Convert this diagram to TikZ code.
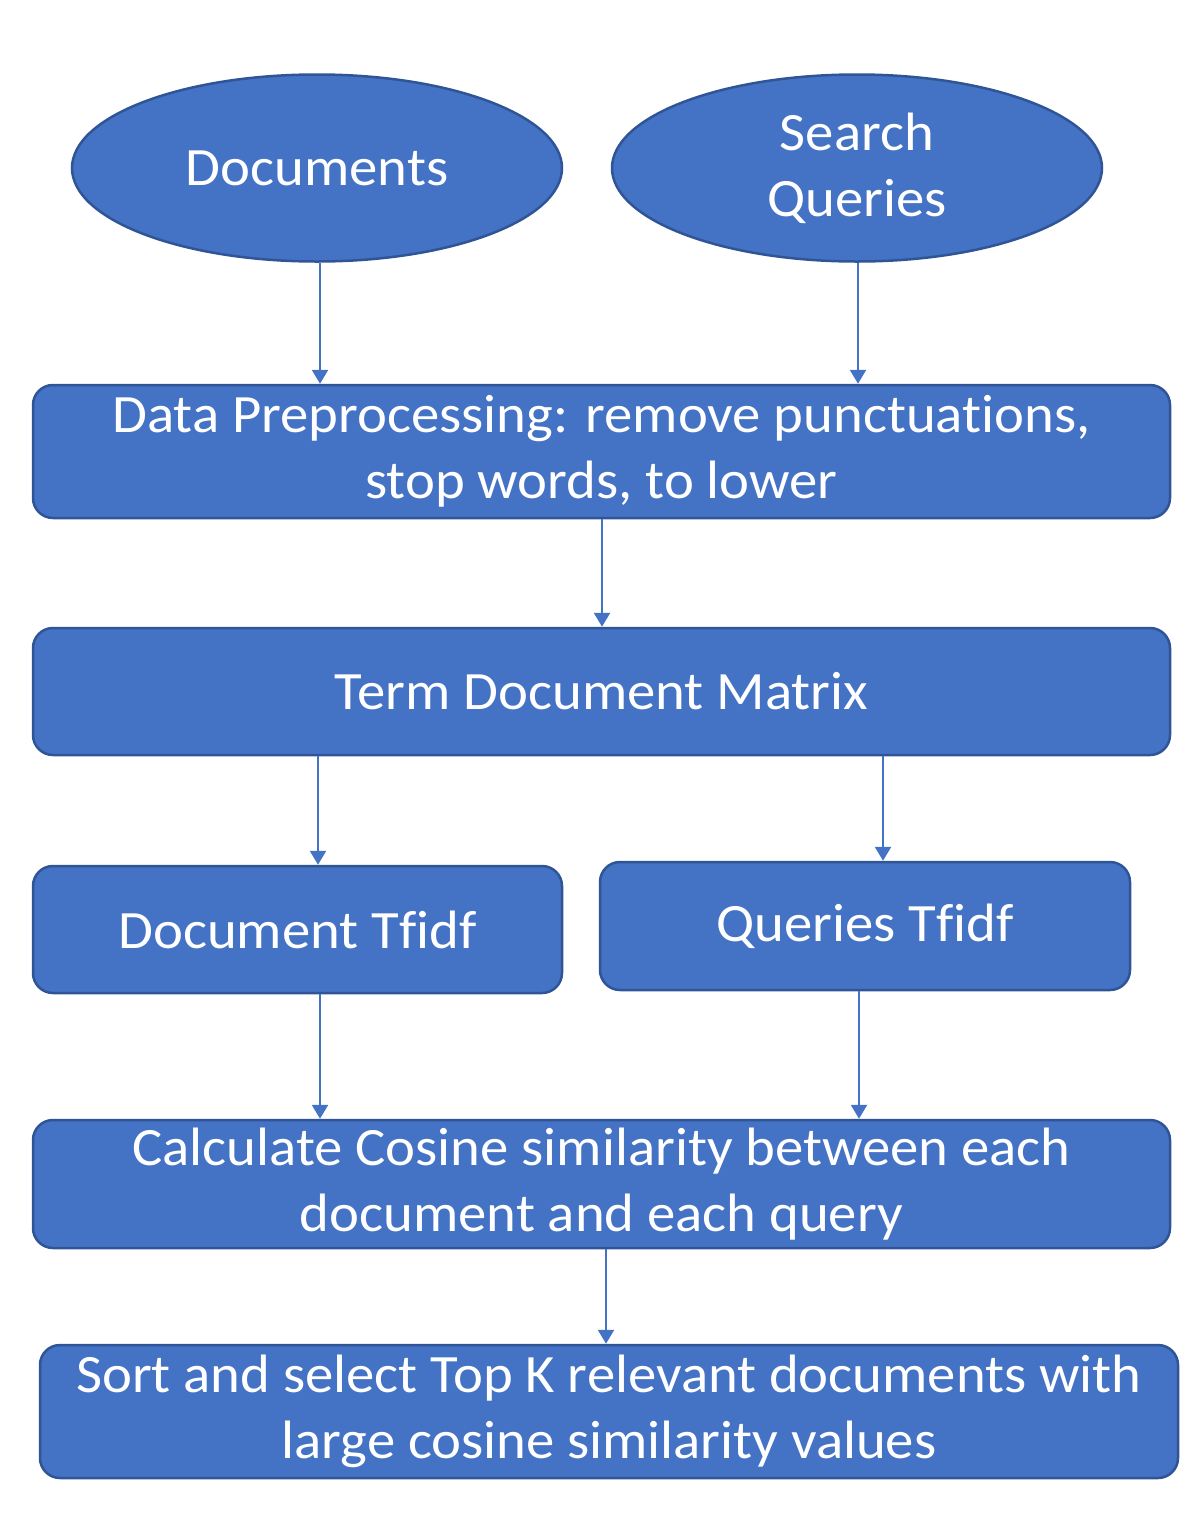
\documentclass[tikz,border=0pt]{standalone}
\usepackage{fontspec}
\setmainfont[FakeStretch=1.05,Ligatures={NoCommon}]{Carlito}
\usetikzlibrary{shapes.geometric,arrows.meta}
\definecolor{boxfill}{HTML}{4472C4}
\definecolor{boxline}{HTML}{2F5597}
\definecolor{arrowc}{HTML}{4472C4}
\begin{document}
\begin{tikzpicture}[x=1pt,y=-1pt,
  txt/.style={text=white,font=\fontsize{54}{66}\selectfont,align=center},
  oval/.style={ellipse,fill=boxfill,draw=boxline,line width=2.5pt,inner sep=0pt,txt},
  rbox/.style={rectangle,rounded corners=20pt,fill=boxfill,draw=boxline,line width=2.5pt,inner sep=0pt,txt},
  conn/.style={draw=arrowc,line width=2.5pt,-{Triangle[length=14pt,width=16pt]}}]
\useasboundingbox (0,0) rectangle (1203,1529);
\node[oval,minimum width=490pt,minimum height=187pt] (docs) at (317,168) {Documents};
\node[oval,minimum width=490pt,minimum height=187pt] (sq) at (857,168) {Search\\Queries};
\node[rbox,minimum width=1137pt,minimum height=133pt] (dp) at (601.5,451.5) {Data Preprocessing: remove punctuat\kern0pt ions,\\stop words, to lower};
\node[rbox,minimum width=1137pt,minimum height=127pt] (tdm) at (601.5,691.5) {Term Document Matrix};
\node[rbox,minimum width=529pt,minimum height=127pt] (dt) at (297.5,929.5) {Document Tfidf};
\node[rbox,minimum width=530pt,minimum height=128pt] (qt) at (865,926) {Queries Tfidf};
\node[rbox,minimum width=1137pt,minimum height=128pt] (calc) at (601.5,1184) {Calculate Cosine similarity between each\\document and each query};
\node[rbox,minimum width=1138pt,minimum height=133pt] (sort) at (609,1411.5) {Sort and select Top K relevant documents with\\large cosine similarity values};
\draw[conn] (docs.south -| 320,0) -- (dp.north -| 320,0);
\draw[conn] (sq.south -| 858,0) -- (dp.north -| 858,0);
\draw[conn] (dp.south -| 602,0) -- (tdm.north -| 602,0);
\draw[conn] (tdm.south -| 318,0) -- (dt.north -| 318,0);
\draw[conn] (tdm.south -| 883,0) -- (qt.north -| 883,0);
\draw[conn] (dt.south -| 320,0) -- (calc.north -| 320,0);
\draw[conn] (qt.south -| 859,0) -- (calc.north -| 859,0);
\draw[conn] (calc.south -| 606,0) -- (sort.north -| 606,0);
\end{tikzpicture}
\end{document}
